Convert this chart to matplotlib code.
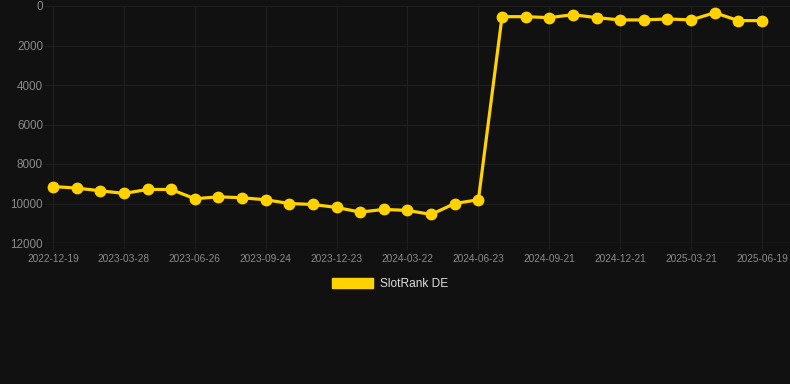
import matplotlib
matplotlib.use("Agg")
import matplotlib.pyplot as plt
from matplotlib.patches import Patch

# monthly ranks, ticks shown every third sample
tick_labels = ["2022-12-19", "2023-03-28", "2023-06-26", "2023-09-24", "2023-12-23",
               "2024-03-22", "2024-06-23", "2024-09-21", "2024-12-21", "2025-03-21",
               "2025-06-19"]
rank_de = [9140, 9220, 9355, 9490, 9290, 9290, 9760, 9660, 9710, 9810,
           10000, 10050, 10200, 10435, 10300, 10350, 10555, 10000, 9810,
           540, 540, 590, 440, 590, 705, 705, 655, 705, 340, 740, 740]
series_name = "SlotRank DE"

bg = "#111111"
grid_c = "#1f1f1f"
text_c = "#8a8a8a"
line_c = "#FFD200"

plt.rcParams["font.family"] = ["Liberation Sans", "DejaVu Sans"]

fig = plt.figure(figsize=(7.9, 3.84), dpi=100, facecolor=bg)
ax = fig.add_axes([45 / 790, 1 - 243 / 384, 745 / 790, 237 / 384], facecolor=bg)

x = list(range(len(rank_de)))
ax.plot(x, rank_de, color=line_c, lw=2.3, marker="o", ms=7.5, zorder=3)

ax.set_ylim(12000, 0)
ax.set_yticks(range(0, 12001, 2000))
ax.set_xlim(-8 / 23.63, 30 + 28 / 23.63)
ax.set_xticks(x[::3])
ax.set_xticklabels(tick_labels)

ax.grid(True, color=grid_c, lw=0.8)
for s in ax.spines.values():
    s.set_visible(False)
ax.axhline(12000, color="#2a2a2a", lw=1, zorder=1)

ax.tick_params(axis="y", length=0, pad=1.5, labelsize=8.4, labelcolor=text_c)
ax.tick_params(axis="x", length=4, color=grid_c, pad=4, labelsize=7.3, labelcolor=text_c)

leg = fig.legend(handles=[Patch(facecolor=line_c, edgecolor=line_c, label=series_name)],
                 loc="center", bbox_to_anchor=(390 / 790, 1 - 284 / 384),
                 frameon=False, fontsize=8.6, labelcolor="#dddddd",
                 handlelength=3.4, handleheight=0.95, handletextpad=0.55)

fig.savefig("out.png", dpi=100, facecolor=bg)
